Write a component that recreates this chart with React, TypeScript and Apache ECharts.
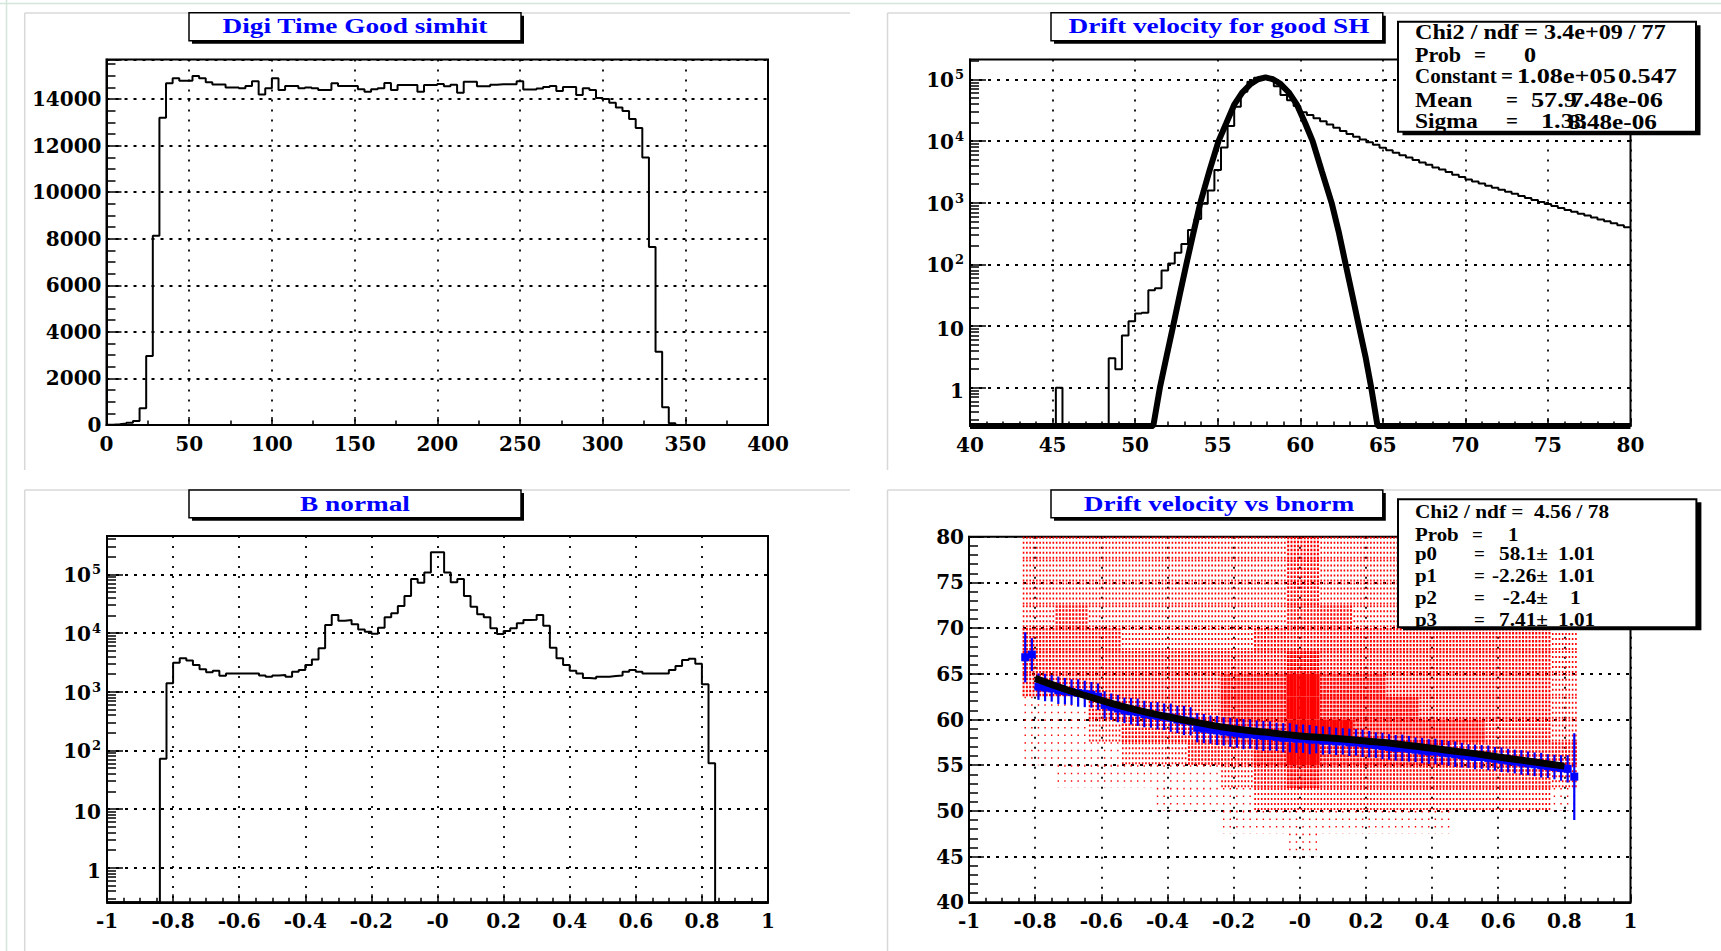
import React, { useEffect, useRef } from "react";
import * as echarts from "echarts";

// ================= Panel 1 : Digi Time Good simhit =================
const TIME_X_MIN = 0;
const TIME_X_MAX = 400;
const TIME_BIN = 4;
const TIME_Y_MAX = 15700;
const TIME_COUNTS = [
  15, 30, 60, 100, 170, 715, 2960, 8130, 13200, 14675,
  14890, 14790, 14790, 14990, 14890, 14720, 14630, 14630, 14500, 14500,
  14460, 14560, 14770, 14200, 14460, 14890, 14390, 14560, 14560, 14460,
  14500, 14460, 14390, 14390, 14680, 14560, 14560, 14560, 14420, 14320,
  14420, 14460, 14690, 14390, 14600, 14600, 14600, 14310, 14600, 14600,
  14650, 14550, 14620, 14270, 14740, 14740, 14550, 14550, 14620, 14640,
  14640, 14640, 14770, 14410, 14410, 14450, 14520, 14560, 14350, 14520,
  14520, 14170, 14460, 14390, 14050, 14000, 13840, 13640, 13490, 13140,
  12760, 11490, 7650, 3150, 760, 70, 0, 0, 0, 0,
  0, 0, 0, 0, 0, 0, 0, 0, 0, 0,
];

// ================= Panel 2 : Drift velocity for good SH =================
const VEL_X_MIN = 40;
const VEL_X_MAX = 80;
const VEL_BIN = 0.4;
const VEL_Y_MIN = 0.239;
const VEL_Y_MAX = 2.11e5;
const VEL_COUNTS = [
  0, 0, 0, 0, 0, 0, 0, 0, 0, 0,
  0, 0, 0, 1, 0, 0, 0, 0, 0, 0,
  0, 3, 2, 7, 12, 16, 16.5, 38, 41, 80,
  103, 155, 215, 360, 545, 960, 1580, 3400, 7850, 17600,
  36000, 63000, 91500, 107000, 108000, 100000, 78000, 56000, 46000, 37000,
  29500, 26500, 23500, 21000, 18600, 16500, 14600, 13000, 11800, 10600,
  9600, 8700, 7800, 7100, 6500, 5900, 5450, 4950, 4500, 4150,
  3750, 3450, 3150, 2850, 2620, 2380, 2220, 2050, 1890, 1760,
  1620, 1510, 1400, 1290, 1200, 1110, 1030, 955, 885, 825,
  765, 715, 665, 620, 575, 535, 500, 465, 430, 400,
];
// gaussian fit curve (clipped at the frame bottom)
const GAUSS_X = [
  40, 51.1, 51.5, 51.9, 52.3, 52.7, 53.1, 53.5, 53.95, 54.5, 55.05, 55.5, 56, 56.5, 57, 57.45,
  57.9, 58.35, 58.8, 59.3, 59.8, 60.3, 60.75, 61.3, 61.9, 62.35, 62.75, 63.15, 63.55, 63.95, 64.3, 64.68, 80,
];
const GAUSS_Y = [
  VEL_Y_MIN, VEL_Y_MIN, 1, 3.2, 10, 32, 100, 300, 1000, 3300, 10000, 19000, 39000, 62000, 85000, 101000,
  108000, 101000, 85000, 62000, 39000, 19500, 10000, 3300, 1000, 320, 100, 32, 10, 3.2, 1, VEL_Y_MIN, VEL_Y_MIN,
];

// ================= Panel 3 : B normal =================
const BN_X_MIN = -1;
const BN_X_MAX = 1;
const BN_BIN = 0.02;
const BN_Y_MIN = 0.257;
const BN_Y_MAX = 4.5e5;
const BN_COUNTS = [
  0, 0, 0, 0, 0, 0, 0, 0, 72, 1390,
  3120, 3700, 3390, 2850, 2400, 2140, 2280, 1875, 2050, 2050,
  2050, 2050, 2050, 1890, 1800, 1890, 1920, 1800, 2190, 2330,
  2850, 3550, 5500, 13700, 20300, 16200, 16600, 14100, 11500, 10500,
  9700, 12300, 18500, 21600, 28900, 42900, 83000, 72000, 107000, 237000,
  237000, 107000, 73000, 83000, 42700, 28000, 20900, 18500, 12000, 9600,
  10800, 12000, 14600, 16600, 16800, 20300, 13300, 5600, 3700, 2850,
  2280, 2050, 1710, 1670, 1800, 1800, 1850, 1890, 2190, 2330,
  2190, 2050, 2050, 2050, 2050, 2330, 2750, 3450, 3650, 3000,
  1340, 60, 0, 0, 0, 0, 0, 0, 0, 0,
];

// ================= Panel 4 : Drift velocity vs bnorm =================
const DV_X_MIN = -1;
const DV_X_MAX = 1;
const DV_Y_MIN = 40;
const DV_Y_MAX = 80;
// 2D scatter density (0 = empty ... 5 = solid), columns of 0.1 from -0.84, rows of 2.5 from 80 down
const SC_X0 = -0.84;
const SC_DX = 0.1;
const SC_XMAX = 0.84;
const SC_BIN = 0.02;
const SC_Y_TOP = 80;
const SC_DY = 2.5;
const SCATTER_DENSITY = [
  [2, 2, 2, 2, 2, 2, 2, 2, 3, 2, 2, 2, 2, 2, 2, 2, 1],
  [2, 2, 2, 2, 2, 2, 2, 2, 3, 2, 2, 2, 2, 2, 2, 2, 1],
  [2, 2, 2, 2, 2, 2, 2, 2, 3, 2, 2, 2, 2, 2, 2, 2, 1],
  [2, 3, 2, 2, 2, 2, 2, 2, 3, 3, 2, 2, 2, 2, 2, 2, 1],
  [3, 3, 3, 2, 2, 2, 2, 3, 3, 3, 3, 3, 3, 3, 3, 3, 2],
  [3, 3, 3, 3, 3, 3, 3, 3, 4, 3, 3, 3, 3, 3, 3, 3, 2],
  [3, 3, 3, 3, 3, 3, 4, 4, 5, 4, 4, 3, 3, 3, 3, 3, 2],
  [1, 1, 3, 3, 3, 3, 4, 4, 5, 4, 4, 4, 3, 3, 3, 3, 2],
  [1, 1, 2, 3, 3, 3, 4, 4, 5, 5, 4, 4, 4, 4, 3, 3, 2],
  [1, 1, 1, 2, 2, 3, 3, 4, 5, 4, 4, 4, 4, 3, 3, 3, 3],
  [0, 1, 1, 1, 1, 1, 2, 3, 4, 3, 3, 3, 3, 3, 3, 3, 2],
  [0, 0, 0, 0, 1, 1, 1, 2, 2, 2, 2, 2, 2, 2, 2, 2, 1],
  [0, 0, 0, 0, 0, 0, 1, 1, 1, 1, 1, 1, 1, 0, 0, 0, 0],
  [0, 0, 0, 0, 0, 0, 0, 0, 1, 0, 0, 0, 0, 0, 0, 0, 0],
  [0, 0, 0, 0, 0, 0, 0, 0, 0, 0, 0, 0, 0, 0, 0, 0, 0],
  [0, 0, 0, 0, 0, 0, 0, 0, 0, 0, 0, 0, 0, 0, 0, 0, 0],
];
// profile (blue): bin centres from -0.83 in steps of 0.02
const PROF_X0 = -0.83;
const PROF_DX = 0.02;
const PROF_MEAN = [
  66.8, 67.1,
  63.6, 63.5, 63.4, 63.2, 63.1, 63.0, 62.9, 62.8, 62.7, 62.5,
  61.6, 61.4, 61.2, 61.0, 60.9, 60.8, 60.6, 60.5, 60.4, 60.3,
  60.2, 60.0, 59.9, 59.8, 59.1, 59.0, 58.9, 58.8, 58.7, 58.6,
  58.5, 58.4, 58.4, 58.3, 58.2, 58.2, 58.1, 58.0, 58.0, 57.9,
  57.9, 57.8, 57.8, 57.7, 57.7, 57.6, 57.6, 57.5, 57.5, 57.4,
  57.3, 57.2, 57.1, 57.0, 56.9, 56.9, 56.8, 56.7, 56.6, 56.5,
  56.5, 56.4, 56.3, 56.2, 56.1, 56.0, 55.9, 55.9, 55.8, 55.7,
  55.6, 55.5, 55.4, 55.3, 55.2, 55.1, 55.0, 54.9, 54.8, 54.7, 54.6,
  53.75,
];
const PROF_ERR = [
  2.75, 1.8,
  1.45, 1.5, 1.45, 1.5, 1.45, 1.4, 1.5, 1.45, 1.4, 1.45,
  1.5, 1.45, 1.5, 1.4, 1.45, 1.5, 1.45, 1.4, 1.5, 1.45,
  1.55, 1.5, 1.6, 1.55, 1.6, 1.6, 1.55, 1.6, 1.55, 1.6,
  1.6, 1.65, 1.6, 1.6, 1.65, 1.6, 1.55, 1.6, 1.6, 1.55,
  1.55, 1.6, 1.5, 1.55, 1.5, 1.5, 1.45, 1.5, 1.45, 1.5,
  1.45, 1.4, 1.45, 1.4, 1.4, 1.45, 1.4, 1.35, 1.4, 1.35,
  1.4, 1.35, 1.35, 1.4, 1.35, 1.3, 1.35, 1.3, 1.35, 1.3,
  1.35, 1.3, 1.3, 1.35, 1.3, 1.3, 1.35, 1.3, 1.35, 1.4, 1.5,
  4.75,
];
// fitted curve (black)
const FIT_X = [-0.8, -0.7, -0.6, -0.5, -0.4, -0.3, -0.2, -0.1, 0, 0.1, 0.2, 0.3, 0.4, 0.5, 0.6, 0.7, 0.8];
const FIT_Y = [64.5, 63.2, 62.1, 61.1, 60.3, 59.6, 59.0, 58.6, 58.2, 57.95, 57.65, 57.3, 56.85, 56.4, 55.9, 55.4, 54.9];

// ================= Texts =================
const TITLES = ["Digi Time Good simhit", "Drift velocity for good SH", "B normal", "Drift velocity vs bnorm"];
const STATS_VEL = {
  chi2: "Chi2 / ndf = 3.4e+09 / 77",
  prob: "0",
  rows: [
    ["Constant", "1.08e+05", "0.547"],
    ["Mean", "57.9", "7.48e-06"],
    ["Sigma", "1.33", "8.48e-06"],
  ],
};
const STATS_DV = {
  chi2: "Chi2 / ndf =  4.56 / 78",
  prob: "1",
  rows: [
    ["p0", "58.1\u00b1", "1.01"],
    ["p1", "-2.26\u00b1", "1.01"],
    ["p2", "-2.4\u00b1", "1"],
    ["p3", "7.41\u00b1", "1.01"],
  ],
};

// ----- tick values for log axes -----
const LOG_MAJORS = [1, 10, 100, 1000, 10000, 100000];
function logMinors(lo: number, hi: number) {
  const out: number[] = [];
  for (let n = -1; n <= 5; n++) {
    for (let k = 2; k <= 9; k++) {
      const v = k * Math.pow(10, n);
      if (v >= lo && v <= hi) out.push(v);
    }
  }
  return out;
}

// ================= helpers =================
const AX_FONT = '"DejaVu Serif", serif';
const TXT_FONT = '"Liberation Serif", "Times New Roman", serif';

function histPoints(lo: number, width: number, counts: number[], floor?: number) {
  const pts: number[][] = [];
  counts.forEach((c, i) => {
    const v = floor !== undefined ? Math.max(c, floor) : c;
    pts.push([lo + i * width, v], [lo + (i + 1) * width, v]);
  });
  return pts;
}

const labelBase = { color: "#000", fontFamily: AX_FONT, fontWeight: "bold" as const, fontSize: 20 };
const hGrid = { show: true, lineStyle: { color: "#000", width: 1.8, type: [3, 6] as number[] } };
const vGrid = { show: true, lineStyle: { color: "#000", width: 1.8, type: [2, 8] as number[] } };

function xAxisDef(grid: number, min: number, max: number, interval: number, minorSplit: number, fmt: (v: number) => string) {
  return {
    type: "value", gridIndex: grid, min, max, interval, position: "bottom",
    axisLine: { show: true, onZero: false, lineStyle: { color: "#000", width: 2 } },
    axisTick: { show: true, inside: true, length: 8, lineStyle: { color: "#000", width: 1.5 } },
    minorTick: { show: true, splitNumber: minorSplit, length: 4.5, lineStyle: { color: "#000", width: 1.5 } },
    splitLine: vGrid,
    minorSplitLine: { show: false },
    axisLabel: { ...labelBase, margin: 9, formatter: fmt, interval: 0, showMinLabel: true, showMaxLabel: true, hideOverlap: false },
  };
}

function yLinDef(grid: number, min: number, max: number, interval: number, minorSplit: number, showMax: boolean) {
  return {
    type: "value", gridIndex: grid, min, max, interval, position: "left",
    axisLine: { show: true, onZero: false, lineStyle: { color: "#000", width: 2 } },
    axisTick: { show: true, inside: true, length: 15, lineStyle: { color: "#000", width: 1.5 } },
    minorTick: { show: true, splitNumber: minorSplit, length: 9, lineStyle: { color: "#000", width: 1.5 } },
    splitLine: hGrid,
    minorSplitLine: { show: false },
    axisLabel: { ...labelBase, margin: 5, formatter: (v: number) => String(v), showMaxLabel: showMax, showMinLabel: true, hideOverlap: false },
  };
}

const logLabel = (v: number) => {
  const n = Math.round(Math.log10(v));
  if (n === 0) return "{p|1}";
  if (n === 1) return "{p|10}";
  return `{b|10}{s|${n}}`;
};
const logRich = {
  b: { fontFamily: AX_FONT, fontWeight: "bold", fontSize: 20, color: "#000", lineHeight: 22, verticalAlign: "bottom" },
  s: { fontFamily: AX_FONT, fontWeight: "bold", fontSize: 13, color: "#000", lineHeight: 8, verticalAlign: "top", padding: [0, 0, 22, 1] },
  p: { fontFamily: AX_FONT, fontWeight: "bold", fontSize: 20, color: "#000", lineHeight: 22, padding: [6, 0, 0, 0] },
};

function yLogDefs(grid: number, min: number, max: number) {
  return [
    {
      type: "log", logBase: 10, gridIndex: grid, min, max, splitNumber: 6, position: "left",
      axisLine: { show: true, onZero: false, lineStyle: { color: "#000", width: 2 } },
      axisTick: { show: true, inside: true, length: 16, customValues: LOG_MAJORS, lineStyle: { color: "#000", width: 1.5 } },
      minorTick: { show: false },
      splitLine: hGrid,
      axisLabel: { show: true, margin: 6, customValues: LOG_MAJORS, formatter: logLabel, rich: logRich, color: "#000" },
    },
    {
      type: "log", logBase: 10, gridIndex: grid, min, max, position: "left",
      axisLine: { show: false, onZero: false },
      axisTick: { show: true, inside: true, length: 9, customValues: logMinors(min, max), lineStyle: { color: "#000", width: 1.5 } },
      minorTick: { show: false },
      splitLine: { show: false },
      axisLabel: { show: false },
    },
  ];
}

const bnFmt = (v: number) => (Math.abs(v) < 1e-9 ? "-0" : String(Math.round(v * 10) / 10));
const plainFmt = (v: number) => String(v);

const DOT_STYLES: Record<number, { offs: number[]; w: number; dash: number[] | null }> = {
  1: { offs: [0.01], w: 1.4, dash: [1.5, 6] },
  2: { offs: [0.005, 0.015], w: 1.6, dash: [2, 3] },
  3: { offs: [0.005, 0.015], w: 2, dash: [2.5, 1.5] },
  4: { offs: [0.005, 0.015], w: 2.6, dash: [3, 1] },
  5: { offs: [0.005, 0.015], w: 3.4, dash: null },
};

// ---------- graphic helpers (layout only) ----------
function boxEls(x: number, y: number, w: number, h: number, sdx: number, sdy: number, lw: number) {
  return [
    { type: "rect", z: 99, shape: { x: x + sdx, y: y + sdy, width: w, height: h }, style: { fill: "#000" } },
    { type: "rect", z: 100, shape: { x, y, width: w, height: h }, style: { fill: "#fff", stroke: "#000", lineWidth: lw } },
  ];
}
function textEl(x: number, y: number, text: string, font: string, opts: { align?: string; fill?: string; sx?: number } = {}) {
  return {
    type: "text", z: 101, x, y, scaleX: opts.sx ?? 1,
    style: { text, font, fill: opts.fill ?? "#000", align: opts.align ?? "left", verticalAlign: "middle" },
  };
}
function lineEl(x1: number, y1: number, x2: number, y2: number, color: string) {
  return { type: "line", z: 1, shape: { x1, y1, x2, y2 }, style: { stroke: color, lineWidth: 1.5 } };
}

export default function App() {
  const ref = useRef<HTMLDivElement>(null);

  useEffect(() => {
    if (!ref.current) return;
    const chart = echarts.init(ref.current, undefined, { renderer: "svg" });

    const scatterCells: number[][] = [];
    SCATTER_DENSITY.forEach((row, r) =>
      row.forEach((lvl, c) => {
        if (lvl > 0) {
          scatterCells.push([SC_X0 + c * SC_DX, SC_X0 + (c + 1) * SC_DX, SC_Y_TOP - (r + 1) * SC_DY, SC_Y_TOP - r * SC_DY, lvl]);
        }
      })
    );
    const profData = PROF_MEAN.map((m, i) => [PROF_X0 + i * PROF_DX, m, PROF_ERR[i]]);

    const titleFont = `bold 22px ${TXT_FONT}`;
    const statFont1 = `bold 21px ${TXT_FONT}`;
    const statFont2 = `bold 19px ${TXT_FONT}`;

    const graphics: any[] = [
      lineEl(0, 3.5, 1721, 3.5, "#d3e6dc"),
      lineEl(6.5, 0, 6.5, 951, "#d3e6dc"),
      lineEl(24.7, 13, 850, 13, "#d8d8d8"),
      lineEl(24.7, 13, 24.7, 470, "#d8d8d8"),
      lineEl(887.5, 13, 1721, 13, "#d8d8d8"),
      lineEl(887.5, 13, 887.5, 470, "#d8d8d8"),
      lineEl(24.7, 490, 850, 490, "#d8d8d8"),
      lineEl(24.7, 490, 24.7, 951, "#d8d8d8"),
      lineEl(887.5, 490, 1721, 490, "#d8d8d8"),
      lineEl(887.5, 490, 887.5, 951, "#d8d8d8"),
      // title boxes
      ...boxEls(189, 12.7, 332, 28, 3, 3, 1.5),
      textEl(355, 25.8, TITLES[0], titleFont, { align: "center", fill: "#0000ff", sx: 1.24 }),
      ...boxEls(1051, 12.7, 331.8, 28, 3, 3, 1.5),
      textEl(1219, 25.8, TITLES[1], titleFont, { align: "center", fill: "#0000ff", sx: 1.24 }),
      ...boxEls(189, 490, 332, 27.7, 3, 3, 1.5),
      textEl(355, 503.5, TITLES[2], titleFont, { align: "center", fill: "#0000ff", sx: 1.24 }),
      ...boxEls(1051, 490, 331.8, 27.7, 3, 3, 1.5),
      textEl(1219, 503.5, TITLES[3], titleFont, { align: "center", fill: "#0000ff", sx: 1.24 }),
      // stats box (top right)
      ...boxEls(1398, 21.7, 298, 110, 4.5, 3.5, 2),
      textEl(1415, 32.3, STATS_VEL.chi2, statFont1, { sx: 1.15 }),
      textEl(1415, 54.7, "Prob", statFont1, { sx: 1.05 }),
      textEl(1474, 54.7, "=", statFont1),
      textEl(1524, 54.7, STATS_VEL.prob, statFont1, { sx: 1.15 }),
      textEl(1415, 76.3, STATS_VEL.rows[0][0], statFont1),
      textEl(1501, 76.3, "=", statFont1),
      textEl(1517, 76.3, STATS_VEL.rows[0][1], statFont1, { sx: 1.25 }),
      textEl(1677, 76.3, STATS_VEL.rows[0][2], statFont1, { sx: 1.25, align: "right" }),
      textEl(1415, 99.7, STATS_VEL.rows[1][0], statFont1, { sx: 1.12 }),
      textEl(1506, 99.7, "=", statFont1),
      textEl(1531, 99.7, STATS_VEL.rows[1][1], statFont1, { sx: 1.25 }),
      textEl(1663, 99.7, STATS_VEL.rows[1][2], statFont1, { sx: 1.25, align: "right" }),
      textEl(1415, 121.3, STATS_VEL.rows[2][0], statFont1, { sx: 1.12 }),
      textEl(1506, 121.3, "=", statFont1),
      textEl(1541, 121.3, STATS_VEL.rows[2][1], statFont1, { sx: 1.25 }),
      textEl(1568, 121.3, STATS_VEL.rows[2][2], statFont1, { sx: 1.2 }),
      // stats box (bottom right)
      ...boxEls(1398, 499.3, 298.4, 128, 5, 3, 2),
      textEl(1415, 511, STATS_DV.chi2, statFont2, { sx: 1.12 }),
      textEl(1415, 534.2, "Prob", statFont2, { sx: 1.1 }),
      textEl(1472, 534.2, "=", statFont2),
      textEl(1508, 534.2, STATS_DV.prob, statFont2, { sx: 1.1 }),
      ...STATS_DV.rows.flatMap((r, i) => {
        const y = 553.7 + i * 21.9;
        return [
          textEl(1415, y, r[0], statFont2, { sx: 1.1 }),
          textEl(1474, y, "=", statFont2),
          textEl(1548, y, r[1], statFont2, { sx: 1.12, align: "right" }),
          textEl(r[2] === "1" ? 1570 : 1558, y, r[2], statFont2, { sx: 1.12 }),
        ];
      }),
    ];

    const gridBase = { show: true, borderColor: "#000", borderWidth: 2, backgroundColor: "transparent", containLabel: false, outerBoundsMode: "none" };

    const [velY, velYMinor] = yLogDefs(1, VEL_Y_MIN, VEL_Y_MAX);
    const [bnY, bnYMinor] = yLogDefs(2, BN_Y_MIN, BN_Y_MAX);

    const option: any = {
      animation: false,
      backgroundColor: "#fff",
      textStyle: { fontFamily: AX_FONT },
      grid: [
        { ...gridBase, left: 106.5, top: 59.5, width: 661.5, height: 365.5 },
        { ...gridBase, left: 970, top: 59.5, width: 660.5, height: 366.5 },
        { ...gridBase, left: 107, top: 536, width: 661, height: 366.3 },
        { ...gridBase, left: 969, top: 536.7, width: 661.5, height: 365.6 },
      ],
      xAxis: [
        xAxisDef(0, TIME_X_MIN, TIME_X_MAX, 50, 2, plainFmt),
        xAxisDef(1, VEL_X_MIN, VEL_X_MAX, 5, 5, plainFmt),
        xAxisDef(2, BN_X_MIN, BN_X_MAX, 0.2, 4, bnFmt),
        xAxisDef(3, DV_X_MIN, DV_X_MAX, 0.2, 4, bnFmt),
      ],
      yAxis: [
        yLinDef(0, 0, TIME_Y_MAX, 2000, 4, false),
        velY,
        velYMinor,
        bnY,
        bnYMinor,
        yLinDef(3, DV_Y_MIN, DV_Y_MAX, 5, 5, true),
      ],
      series: [
        {
          type: "line", xAxisIndex: 0, yAxisIndex: 0, data: histPoints(TIME_X_MIN, TIME_BIN, TIME_COUNTS),
          symbol: "none", lineStyle: { color: "#000", width: 2 }, z: 3, silent: true,
        },
        {
          type: "line", xAxisIndex: 1, yAxisIndex: 1, data: histPoints(VEL_X_MIN, VEL_BIN, VEL_COUNTS, VEL_Y_MIN),
          symbol: "none", lineStyle: { color: "#000", width: 2 }, z: 3, silent: true,
        },
        {
          type: "line", xAxisIndex: 1, yAxisIndex: 1, data: GAUSS_X.map((x, i) => [x, GAUSS_Y[i]]),
          symbol: "none", lineStyle: { color: "#000", width: 6 }, z: 4, clip: false, silent: true,
        },
        {
          type: "line", xAxisIndex: 2, yAxisIndex: 3, data: histPoints(BN_X_MIN, BN_BIN, BN_COUNTS, BN_Y_MIN),
          symbol: "none", lineStyle: { color: "#000", width: 2 }, z: 3, silent: true,
        },
        {
          type: "custom", xAxisIndex: 3, yAxisIndex: 5, data: scatterCells, z: 2, silent: true,
          encode: { x: [0, 1], y: [2, 3] },
          renderItem: (params: any, api: any) => {
            const x0 = api.value(0), x1 = api.value(1), y0 = api.value(2), y1 = api.value(3), lvl = api.value(4);
            const st = DOT_STYLES[lvl];
            if (!st) return null;
            const yTop = api.coord([x0, y1])[1];
            const yBot = api.coord([x0, y0])[1];
            const xEnd = Math.min(x1, SC_XMAX);
            const children: any[] = [];
            for (let b = x0; b < xEnd - 1e-6; b += SC_BIN) {
              for (const off of st.offs) {
                const px = api.coord([b + off, y0])[0];
                children.push({
                  type: "line", shape: { x1: px, y1: yTop, x2: px, y2: yBot },
                  style: { stroke: "#ff0000", lineWidth: st.w, lineDash: st.dash || undefined },
                });
              }
            }
            return { type: "group", children };
          },
        },
        {
          type: "custom", xAxisIndex: 3, yAxisIndex: 5, data: profData, z: 3, silent: true,
          encode: { x: 0, y: 1 },
          renderItem: (params: any, api: any) => {
            const x = api.value(0), m = api.value(1), e = api.value(2);
            const c = api.coord([x, m]);
            const t = api.coord([x, m + e]);
            const b = api.coord([x, m - e]);
            const l = api.coord([x - PROF_DX / 2, m]);
            const r = api.coord([x + PROF_DX / 2, m]);
            return {
              type: "group",
              children: [
                { type: "line", shape: { x1: c[0], y1: t[1], x2: c[0], y2: b[1] }, style: { stroke: "#0000ff", lineWidth: 2.2 } },
                { type: "line", shape: { x1: l[0], y1: c[1], x2: r[0], y2: c[1] }, style: { stroke: "#0000ff", lineWidth: 2 } },
                { type: "rect", shape: { x: c[0] - 4, y: c[1] - 4, width: 8, height: 8 }, style: { fill: "#0000ff" } },
              ],
            };
          },
        },
        {
          type: "line", xAxisIndex: 3, yAxisIndex: 5, data: FIT_X.map((x, i) => [x, FIT_Y[i]]),
          symbol: "none", smooth: true, lineStyle: { color: "#000", width: 7 }, z: 4, silent: true,
        },
      ],
      graphic: { elements: graphics },
    };

    chart.setOption(option);
    return () => chart.dispose();
  }, []);

  return (
    <div
      ref={ref}
      style={{ position: "absolute", left: 0, top: 0, width: 1721, height: 951, background: "#fff" }}
    />
  );
}
